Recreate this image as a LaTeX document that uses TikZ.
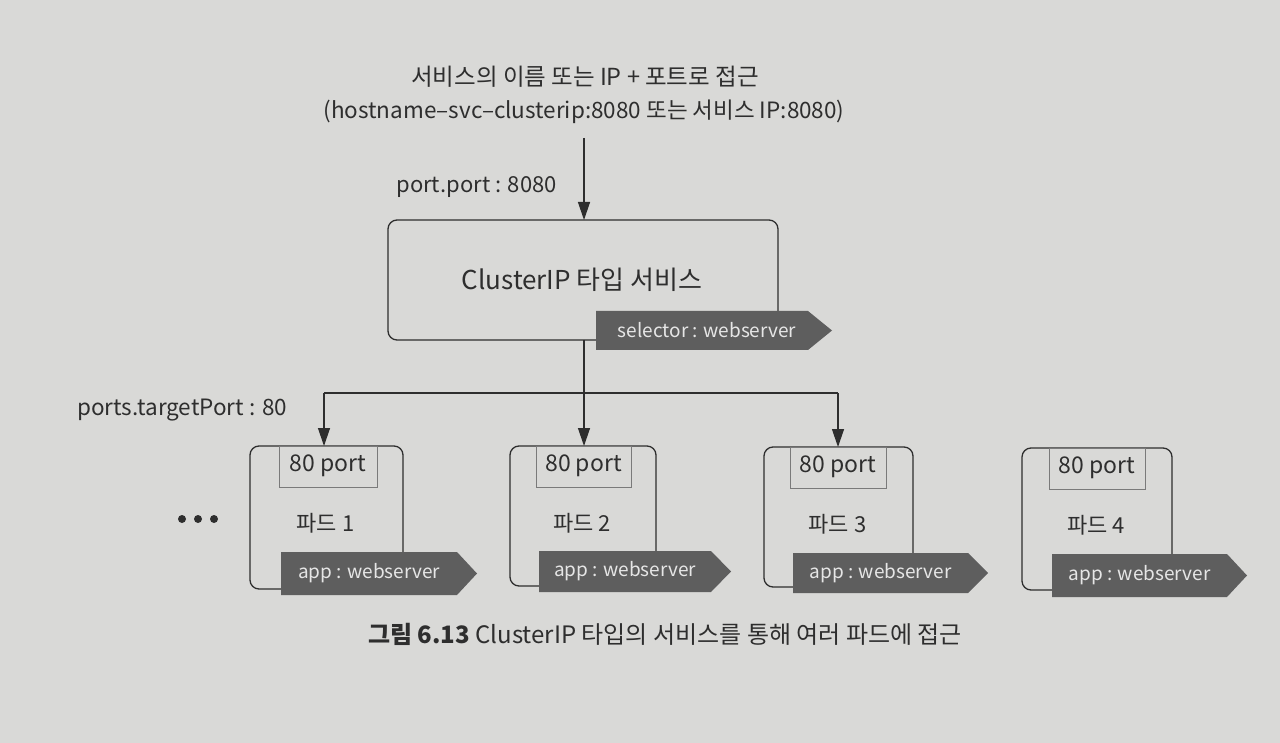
\documentclass[tikz,border=0pt]{standalone}
\usepackage{fontspec}
\setmainfont{Noto Sans CJK KR}
\usetikzlibrary{arrows.meta}
\definecolor{bg}{HTML}{D9D9D7}
\definecolor{ink}{HTML}{2E2E2E}
\definecolor{tagfill}{HTML}{5E5E5E}
\definecolor{tagtext}{HTML}{E6E6E6}
\definecolor{portline}{HTML}{7A7A7A}
\tikzset{
  lbl/.style={text=ink, inner sep=0pt, font=\fontsize{22.5}{26}\selectfont},
  boxline/.style={draw=ink, line width=1.3pt, rounded corners=9pt},
  conn/.style={draw=ink, line width=1.3pt},
  arr/.style={conn, -{Triangle[length=18pt,width=12pt]}},
  tagtxt/.style={text=tagtext, inner sep=0pt, font=\fontsize{19}{22}\selectfont},
  portbox/.style={draw=portline, line width=0.6pt},
}
\newcommand{\tagshape}[5]{% x1 y1 x2 y2 tipstart
  \fill[tagfill] (#1,#2) -- (#5,#2) -- (#3,{(#2+#4)/2}) -- (#5,#4) -- (#1,#4) -- cycle;}
\begin{document}
\begin{tikzpicture}[x=1pt,y=-1pt]
\useasboundingbox (0,0) rectangle (1280,743);
\fill[bg] (0,0) rectangle (1280,743);

% top texts
\node[lbl, font=\fontsize{23.5}{27}\selectfont] (t1) at (585,77) {서비스의 이름 또는 IP + 포트로 접근};
\node[lbl] (t2) at (584,112) {(hostname–svc–clusterip:8080 또는 서비스 IP:8080)};
\coordinate (a0) at (584,138);
\node[lbl, font=\fontsize{22}{26}\selectfont, anchor=east] (pp) at (557,187) {port.port : 8080};

% service box
\draw[boxline] (388,220) rectangle (778,340);
\coordinate (svctop) at (584,220);
\coordinate (svcbot) at (584,340);
\node[lbl, font=\fontsize{26}{30}\selectfont] (svc) at (582,280) {ClusterIP 타입 서비스};
\tagshape{596}{311}{832}{350}{808}
\node[tagtxt] (sel) at (707,330) {selector : webserver};

\draw[arr] (a0) -- (svctop);

% distribution lines
\coordinate (hub) at (584,393);
\coordinate (hl) at (324,393);
\coordinate (hr) at (838,393);
\draw[conn] (svcbot) -- (hub);
\draw[conn] (hl) -- (hr);
\node[lbl, anchor=west] (tp) at (77,410) {ports.targetPort : 80};

% pods: left right top bottom, port box l r, tag l tip-start tip y1 y2
\foreach \n/\l/\r/\t/\b/\pl/\pr/\tl/\ts/\te/\ty/\tb in {
  1/250/403/446/589/279/377/281/457/477/552/595,
  2/510/656/446/586/536/631/539/711/731/551/592,
  3/764/913/447/587/790/886/793/968/988/553/593,
  4/1022/1172/448/590/1049/1145/1052/1227/1247/554/597}{
  \draw[boxline] (\l,\t) rectangle (\r,\b);
  \draw[portbox] (\pl,\t) rectangle (\pr,{\t+41});
  \node[lbl, font=\fontsize{23}{26}\selectfont] (port\n) at ({(\pl+\pr)/2},{\t+20}) {80 port};
  \node[lbl, font=\fontsize{22}{26}\selectfont] (pod\n) at ({(\l+\r)/2-1},{\t+77}) {파드 \n};
  \tagshape{\tl}{\ty}{\te}{\tb}{\ts}
  \node[tagtxt] (app\n) at ({(\tl+\ts)/2},{(\ty+\tb)/2}) {app : webserver};
}
\coordinate (p1top) at (324,446);
\coordinate (p2top) at (584,446);
\coordinate (p3top) at (838,447);
\draw[arr] (hl) -- (p1top);
\draw[arr] (hub) -- (p2top);
\draw[arr] (hr) -- (p3top);

% dots
\foreach \x in {182,198,214} \fill[ink] (\x,519) circle (4);

% caption
\node[lbl, font=\fontsize{24}{28}\selectfont] (cap) at (665,634) {\textbf{그림 6.13} ClusterIP 타입의 서비스를 통해 여러 파드에 접근};
\end{tikzpicture}
\end{document}
